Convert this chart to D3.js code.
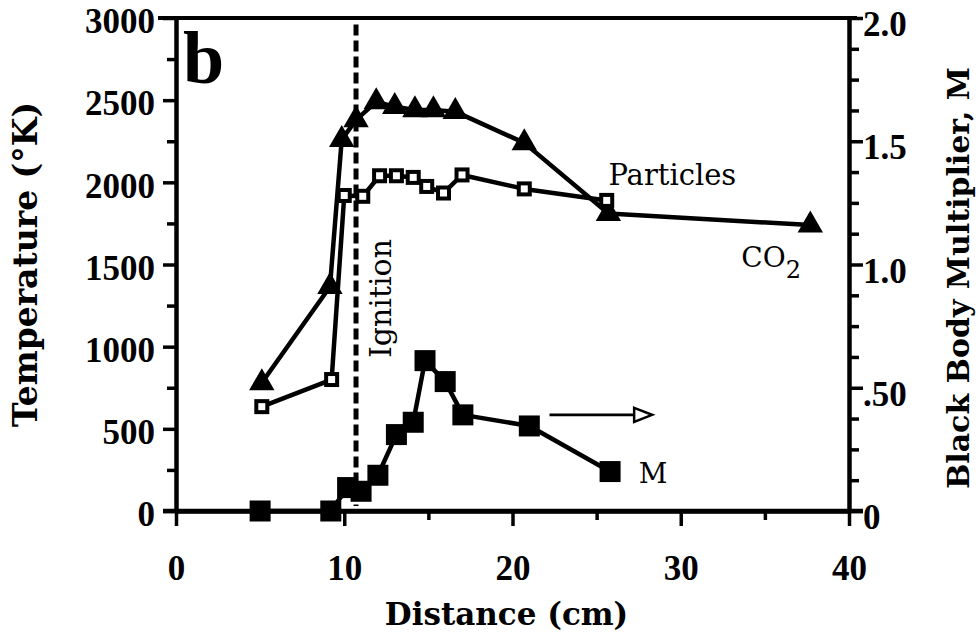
<!DOCTYPE html>
<html>
<head>
<meta charset="utf-8">
<script src="https://cdn.jsdelivr.net/npm/d3@7"></script>
<style>
  html, body { margin: 0; padding: 0; background: #fff; }
  svg { display: block; }
</style>
</head>
<body>
<svg id="chart" width="978" height="632"></svg>
<script>
// ---------------- data ----------------
const co2Distance = [5.1, 9.15, 9.85, 10.7, 11.9, 13.0, 14.2, 15.3, 16.6, 20.7, 25.7, 37.7];
const co2Temp     = [780, 1365, 2260, 2380, 2490, 2460, 2440, 2440, 2430, 2240, 1810, 1740];

const particleDistance = [5.1, 9.25, 10.0, 11.1, 12.1, 13.1, 14.1, 14.9, 15.9, 17.0, 20.7, 25.6];
const particleTemp     = [635, 800, 1920, 1915, 2040, 2040, 2030, 1975, 1935, 2045, 1960, 1890];

const mDistance = [5.0, 9.2, 10.2, 11.0, 12.0, 13.1, 14.1, 14.8, 16.0, 17.05, 21.0, 25.8];
const mValue    = [0, 0, 0.095, 0.08, 0.145, 0.31, 0.36, 0.61, 0.525, 0.39, 0.345, 0.16];

const distanceTicks = [0, 10, 20, 30, 40];
const distanceMinorTicks = [5, 15, 25, 35];
const tempTicks = [0, 500, 1000, 1500, 2000, 2500, 3000];
const tempTickLabels = ["0", "500", "1000", "1500", "2000", "2500", "3000"];
const mTicks = [0, 0.5, 1.0, 1.5, 2.0];
const mTickLabels = ["0", ".50", "1.0", "1.5", "2.0"];

const ignitionDistance = 10.7;
const arrowSpan = [22.2, 28.3];   // distance (cm)
const arrowLevel = 0.39;          // M

// ---------------- layout ----------------
const W = 978, H = 632;
const svg = d3.select("#chart");
svg.append("rect").attr("width", W).attr("height", H).attr("fill", "#fff");

const x = d3.scaleLinear().domain([0, 40]).range([176, 849]);
const yT = d3.scaleLinear().domain([0, 3000]).range([511, 18]);
const yM = d3.scaleLinear().domain([0, 2]).range([511, 18]);

const tickFont = "'Liberation Serif', 'Times New Roman', serif";
const textFont = "'DejaVu Serif', serif";

function styleAxis(g, strokeW) {
  g.selectAll("path.domain").attr("stroke", "#000").attr("stroke-width", strokeW);
  g.selectAll(".tick line").attr("stroke", "#000").attr("stroke-width", 3.5);
  g.selectAll(".tick text")
    .attr("fill", "#000")
    .style("font-family", tickFont)
    .style("font-weight", "bold")
    .style("font-size", "35px");
}

// top frame line
svg.append("line")
  .attr("x1", x(0) - 18).attr("x2", x(40) + 8)
  .attr("y1", yT(3000)).attr("y2", yT(3000))
  .attr("stroke", "#000").attr("stroke-width", 4);

// left minor ticks
const gLeftMinor = svg.append("g").attr("transform", `translate(${x(0)},0)`)
  .call(d3.axisLeft(yT).tickValues(d3.range(250, 3000, 500)).tickSize(9).tickSizeOuter(0).tickFormat(""));
styleAxis(gLeftMinor, 0);
gLeftMinor.select("path.domain").remove();

// left axis
const gLeft = svg.append("g").attr("transform", `translate(${x(0)},0)`)
  .call(d3.axisLeft(yT).tickValues(tempTicks).tickSize(13).tickSizeOuter(0).tickPadding(8)
    .tickFormat((d, i) => tempTickLabels[i]));
styleAxis(gLeft, 4.5);
gLeft.selectAll(".tick text").attr("dy", "0.42em");

// right minor ticks
const gRightMinor = svg.append("g").attr("transform", `translate(${x(40)},0)`)
  .call(d3.axisRight(yM).tickValues(d3.range(0.125, 2, 0.125).filter(v => Math.abs(v * 2 - Math.round(v * 2)) > 1e-6))
    .tickSize(10).tickSizeOuter(0).tickFormat(""));
styleAxis(gRightMinor, 0);
gRightMinor.select("path.domain").remove();

// right axis
const gRight = svg.append("g").attr("transform", `translate(${x(40)},0)`)
  .call(d3.axisRight(yM).tickValues(mTicks).tickSize(14).tickSizeOuter(0).tickPadding(0)
    .tickFormat((d, i) => mTickLabels[i]));
styleAxis(gRight, 4.5);
gRight.selectAll(".tick text").attr("dy", "0.5em");

// bottom minor ticks
const gBottomMinor = svg.append("g").attr("transform", `translate(0,${yT(0)})`)
  .call(d3.axisBottom(x).tickValues(distanceMinorTicks).tickSize(9).tickSizeOuter(0).tickFormat(""));
styleAxis(gBottomMinor, 0);
gBottomMinor.select("path.domain").remove();

// bottom axis
const gBottom = svg.append("g").attr("transform", `translate(0,${yT(0)})`)
  .call(d3.axisBottom(x).tickValues(distanceTicks).tickSize(15).tickSizeOuter(0).tickPadding(29)
    .tickFormat(d3.format("d")));
styleAxis(gBottom, 4.5);
svg.append("line")
  .attr("x1", x(0) - 13).attr("x2", x(40) + 14)
  .attr("y1", yT(0)).attr("y2", yT(0))
  .attr("stroke", "#000").attr("stroke-width", 4.5);

// ---------------- ignition dashed line ----------------
svg.append("line")
  .attr("x1", x(ignitionDistance)).attr("x2", x(ignitionDistance))
  .attr("y1", yT(2960)).attr("y2", yT(30))
  .attr("stroke", "#000").attr("stroke-width", 5)
  .attr("stroke-dasharray", "11,5");

// ---------------- series ----------------
const co2 = co2Distance.map((d, i) => [d, co2Temp[i]]);
const particles = particleDistance.map((d, i) => [d, particleTemp[i]]);
const mult = mDistance.map((d, i) => [d, mValue[i]]);

const lineT = d3.line().x(d => x(d[0])).y(d => yT(d[1]));
const lineM = d3.line().x(d => x(d[0])).y(d => yM(d[1]));

[ [co2, lineT], [particles, lineT], [mult, lineM] ].forEach(([data, gen]) => {
  svg.append("path").datum(data).attr("d", gen)
    .attr("fill", "none").attr("stroke", "#000").attr("stroke-width", 4.5).attr("stroke-linejoin", "round");
});

// triangles (CO2)
svg.append("g").selectAll("path").data(co2).join("path")
  .attr("transform", d => `translate(${x(d[0])},${yT(d[1])})`)
  .attr("d", d3.symbol(d3.symbolTriangle, 280))
  .attr("fill", "#000");

// open squares (particles)
const sq = 11;
svg.append("g").selectAll("rect").data(particles).join("rect")
  .attr("x", d => x(d[0]) - sq / 2).attr("y", d => yT(d[1]) - sq / 2)
  .attr("width", sq).attr("height", sq)
  .attr("fill", "#fff").attr("stroke", "#000").attr("stroke-width", 4);

// filled squares (M)
const fs = 21;
svg.append("g").selectAll("rect").data(mult).join("rect")
  .attr("x", d => x(d[0]) - fs / 2).attr("y", d => yM(d[1]) - fs / 2)
  .attr("width", fs).attr("height", fs)
  .attr("fill", "#000");

// arrow pointing to the right axis
const ax1 = x(arrowSpan[0]), ax2 = x(arrowSpan[1]), ay = yM(arrowLevel);
svg.append("line").attr("x1", ax1).attr("x2", ax2 - 16).attr("y1", ay).attr("y2", ay)
  .attr("stroke", "#000").attr("stroke-width", 2.8);
svg.append("path")
  .attr("d", `M${ax2 - 18},${ay - 7} L${ax2},${ay} L${ax2 - 18},${ay + 7} Z`)
  .attr("fill", "#fff").attr("stroke", "#000").attr("stroke-width", 2.5).attr("stroke-linejoin", "miter");

// ---------------- text ----------------
function label(txt, px, py, size, weight) {
  return svg.append("text").attr("x", px).attr("y", py)
    .style("font-family", textFont).style("font-size", size + "px")
    .style("font-weight", weight || "normal").attr("fill", "#000").text(txt);
}

svg.append("text").attr("x", x(0.42)).attr("y", yT(2605))
  .style("font-family", tickFont).style("font-weight", "bold").style("font-size", "74px")
  .attr("fill", "#000").text("b");

label("Particles", x(25.7), yT(1984), 29);
const co = label("CO", x(33.6), yT(1485), 28);
co.append("tspan").attr("dy", 11).style("font-size", "24px").text("2");
label("M", x(27.5), yT(170), 28);

svg.append("text")
  .attr("transform", `translate(${x(12.8)},${yT(931)}) rotate(-90)`)
  .style("font-family", textFont).style("font-size", "30px").attr("fill", "#000")
  .text("Ignition");

svg.append("text")
  .attr("transform", `translate(37,${(yT(0) + yT(3000)) / 2}) rotate(-90)`)
  .attr("text-anchor", "middle")
  .style("font-family", textFont).style("font-weight", "bold").style("font-size", "33px")
  .attr("fill", "#000").text("Temperature (°K)");

svg.append("text")
  .attr("transform", `translate(969,278) rotate(-90)`)
  .attr("text-anchor", "middle")
  .style("font-family", textFont).style("font-weight", "bold").style("font-size", "30px")
  .attr("fill", "#000").text("Black Body Multiplier, M");

svg.append("text")
  .attr("x", (x(0) + x(40)) / 2 - 6).attr("y", 625)
  .attr("text-anchor", "middle")
  .style("font-family", textFont).style("font-weight", "bold").style("font-size", "31px")
  .attr("fill", "#000").text("Distance (cm)");
</script>
</body>
</html>
